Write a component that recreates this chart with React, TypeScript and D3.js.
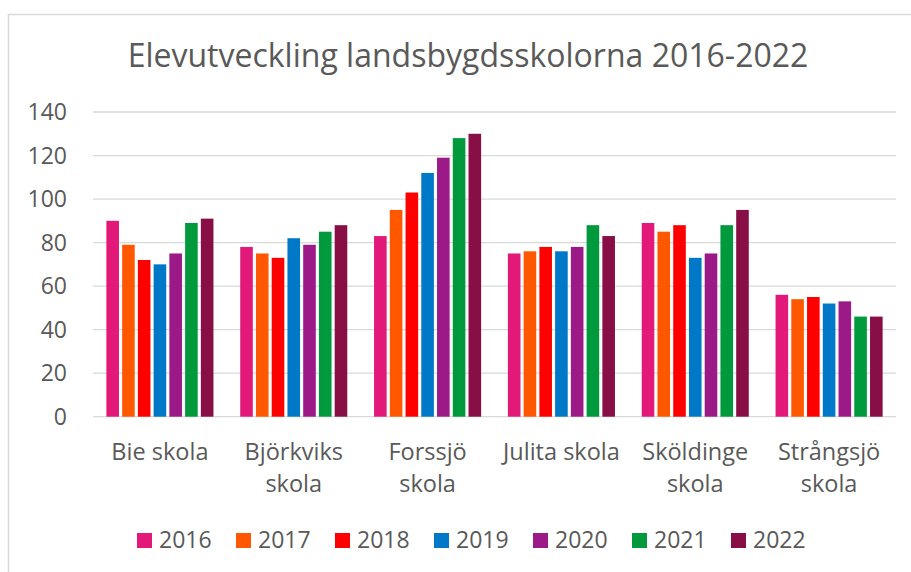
import React from "react";
import * as d3 from "d3";

const schools = [
  "Bie skola",
  "Björkviks skola",
  "Forssjö skola",
  "Julita skola",
  "Sköldinge skola",
  "Strångsjö skola",
];
const years = ["2016", "2017", "2018", "2019", "2020", "2021", "2022"];
// one array per year, in school order
const v2016 = [90, 78, 83, 75, 89, 56];
const v2017 = [79, 75, 95, 76, 85, 54];
const v2018 = [72, 73, 103, 78, 88, 55];
const v2019 = [70, 82, 112, 76, 73, 52];
const v2020 = [75, 79, 119, 78, 75, 53];
const v2021 = [89, 85, 128, 88, 88, 46];
const v2022 = [91, 88, 130, 83, 95, 46];
const yTicks = [0, 20, 40, 60, 80, 100, 120, 140];
const colors = ["#E3197A", "#FF5800", "#FF0000", "#0078C8", "#9C1A87", "#009A3D", "#880F46"];

const series = [v2016, v2017, v2018, v2019, v2020, v2021, v2022];

const W = 911;
const H = 572;
const margin = { left: 93, right: 15, top: 112, bottom: 155 };
const textColor = "#595959";
const font = "'Open Sans', 'Noto Sans', sans-serif";

export default function App() {
  const x0 = d3
    .scaleBand()
    .domain(schools)
    .range([margin.left, W - margin.right])
    .paddingInner(0.2)
    .paddingOuter(0.1);
  const x1 = d3
    .scaleBand()
    .domain(years)
    .range([0, x0.bandwidth()])
    .paddingInner(0.2);
  const y = d3
    .scaleLinear()
    .domain([0, 140])
    .range([H - margin.bottom - 0.3, margin.top]);

  const plotLeft = margin.left;
  const plotRight = W - margin.right;

  // wrap long category names like excel does
  const wrap = (s: string) => (s.length > 12 ? s.split(" ") : [s]);

  const legendStep = 99;
  const legendStart = 472 - (years.length * legendStep - 23) / 2;

  return (
    <svg
      width={W}
      height={H}
      style={{ position: "absolute", left: 0, top: 0, background: "#fff" }}
      fontFamily={font}
    >
      <rect x={8.5} y={14.5} width={W + 10} height={H + 10} fill="#fff" stroke="#d9d9d9" strokeWidth={1.5} />

      <text x={468} y={67} textAnchor="middle" fontSize={32} fill={textColor}>
        Elevutveckling landsbygdsskolorna 2016-2022
      </text>

      {/* gridlines */}
      {yTicks.map((t) => (
        <line
          key={t}
          x1={plotLeft}
          x2={plotRight}
          y1={y(t)}
          y2={y(t)}
          stroke="#d9d9d9"
          strokeWidth={1.3}
        />
      ))}
      {yTicks.map((t) => (
        <text key={"l" + t} x={67} y={y(t) + 8} textAnchor="end" fontSize={23} fill={textColor}>
          {t}
        </text>
      ))}

      {/* bars */}
      {schools.map((s, si) => (
        <g key={s} transform={`translate(${x0(s)},0)`}>
          {years.map((yr, yi) => {
            const v = series[yi][si];
            return (
              <rect
                key={yr}
                x={x1(yr)}
                y={y(v)}
                width={x1.bandwidth()}
                height={y(0) - y(v)}
                fill={colors[yi]}
              />
            );
          })}
        </g>
      ))}

      {/* category labels */}
      {schools.map((s) => (
        <text
          key={"c" + s}
          x={(x0(s) as number) + x0.bandwidth() / 2}
          y={460}
          textAnchor="middle"
          fontSize={23.5}
          fill={textColor}
        >
          {wrap(s).map((line, i) => (
            <tspan key={i} x={(x0(s) as number) + x0.bandwidth() / 2} dy={i === 0 ? 0 : 32}>
              {line}
            </tspan>
          ))}
        </text>
      ))}

      {/* legend */}
      {years.map((yr, i) => (
        <g key={"lg" + yr} transform={`translate(${legendStart + i * legendStep},0)`}>
          <rect x={0} y={533} width={15} height={15} fill={colors[i]} />
          <text x={22} y={548} fontSize={23} fill={textColor}>
            {yr}
          </text>
        </g>
      ))}
    </svg>
  );
}
